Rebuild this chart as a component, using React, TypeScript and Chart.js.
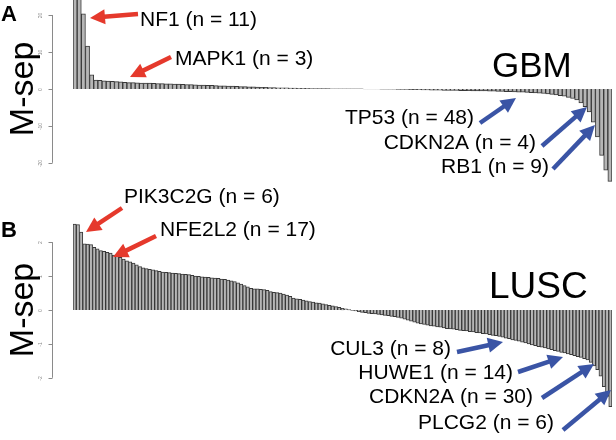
import React, { useEffect, useRef } from "react";
import { Chart, registerables } from "chart.js";

Chart.register(...registerables);

// ---------- data ----------
const gbmValues: number[] = [
  27, 25.5, 20.3, 11.6, 3.8,
  2.4, 2.3, 2.2, 2.1, 2.05, 1.95, 1.9, 1.8, 1.7,
  1.68, 1.65, 1.6, 1.58, 1.55, 1.5, 1.47, 1.43, 1.4, 1.36, 1.32, 1.28, 1.24, 1.2, 1.15, 1.1,
  1.06, 1.02, 0.98, 0.94, 0.9, 0.86, 0.82, 0.78, 0.74, 0.7, 0.66, 0.62, 0.58, 0.54, 0.5, 0.45,
  0.42, 0.38, 0.35, 0.32, 0.29, 0.26, 0.23, 0.2, 0.17, 0.14, 0.12, 0.1,
  0.09, 0.08, 0.07, 0.06, 0.05, 0.05, 0.04, 0.03, 0.02, 0.02, 0.01, 0.01, -0.01, -0.02, -0.03,
  -0.04, -0.05, -0.06, -0.08, -0.1, -0.12, -0.14, -0.16, -0.18, -0.2, -0.23, -0.26,
  -0.3, -0.32, -0.34, -0.36, -0.38, -0.4, -0.42, -0.44, -0.46, -0.48, -0.5, -0.52, -0.54, -0.56, -0.58, -0.6,
  -0.63, -0.66, -0.7, -0.74, -0.78, -0.82, -0.86, -0.9, -0.95, -1.0,
  -1.08, -1.16, -1.25, -1.35, -1.48, -1.62, -1.8, -2.0,
  -2.3, -2.6, -3.0, -3.8, -4.8,
  -6.2, -9, -13, -18, -22, -25,
];

const luscValues: number[] = [
  2.53, 2.52, 2.3,
  1.95, 1.94, 1.93, 1.85, 1.8,
  1.75, 1.73, 1.7, 1.68,
  1.62, 1.58, 1.55, 1.5, 1.45,
  1.42, 1.38, 1.33, 1.28, 1.24,
  1.22, 1.2, 1.18, 1.16, 1.14, 1.12,
  1.11, 1.1, 1.09, 1.08, 1.07, 1.06, 1.05, 1.04, 1.02, 1.0,
  0.99, 0.98, 0.97, 0.96, 0.95, 0.94, 0.93, 0.91, 0.9, 0.88,
  0.86, 0.84, 0.8, 0.76, 0.72, 0.68, 0.64,
  0.62, 0.62, 0.61, 0.6, 0.58, 0.54,
  0.52, 0.51, 0.5, 0.47, 0.44, 0.4, 0.35,
  0.33, 0.31, 0.29, 0.27, 0.25, 0.23, 0.21, 0.2,
  0.18, 0.16, 0.14, 0.12, 0.1, 0.08, 0.05, 0.03, 0.01,
  -0.01, -0.03, -0.05, -0.07, -0.08, -0.1,
  -0.11, -0.12, -0.13, -0.15, -0.16, -0.17, -0.19, -0.2, -0.22, -0.24,
  -0.27, -0.3, -0.33, -0.36, -0.39,
  -0.41, -0.43, -0.45, -0.47, -0.48, -0.5, -0.51, -0.53, -0.55, -0.56,
  -0.57, -0.58, -0.6, -0.61, -0.62, -0.64, -0.65, -0.67, -0.68, -0.7, -0.71, -0.73, -0.75, -0.76, -0.78,
  -0.8, -0.83, -0.85, -0.88, -0.9, -0.92, -0.95, -0.97, -1.0, -1.03,
  -1.05, -1.08, -1.1, -1.12, -1.15, -1.17, -1.2, -1.22, -1.25, -1.27,
  -1.3, -1.32, -1.35, -1.38, -1.4, -1.44, -1.47,
  -1.55, -1.65, -1.76, -1.95, -2.26, -2.55, -2.85,
];

const gbmTicks = [20, 10, 0, -10, -20];
const luscTicks = [2, 1, 0, -1, -2];

const gbmNotes = ["NF1 (n = 11)", "MAPK1 (n = 3)", "TP53 (n = 48)", "CDKN2A (n = 4)", "RB1 (n = 9)"];
const luscNotes = ["PIK3C2G (n = 6)", "NFE2L2 (n = 17)", "CUL3 (n = 8)", "HUWE1 (n = 14)", "CDKN2A (n = 30)", "PLCG2 (n = 6)"];

// ---------- layout / style ----------
const FONT = '"Liberation Sans", Arial, Helvetica, sans-serif';
const RED = "#e5392c";
const BLUE = "#3a54a5";

type NoteLayout = {
  x: number; y: number; align: CanvasTextAlign; color: string;
  ax1: number; ay1: number; ax2: number; ay2: number;
};

const gbmLayout: NoteLayout[] = [
  { x: 140, y: 20, align: "left", color: RED, ax1: 138, ay1: 14, ax2: 90, ay2: 18 },
  { x: 175, y: 59, align: "left", color: RED, ax1: 171, ay1: 57, ax2: 130, ay2: 77 },
  { x: 474, y: 118, align: "right", color: BLUE, ax1: 480, ay1: 123, ax2: 516, ay2: 98 },
  { x: 536, y: 143, align: "right", color: BLUE, ax1: 542, ay1: 146, ax2: 587, ay2: 107 },
  { x: 549, y: 167, align: "right", color: BLUE, ax1: 553, ay1: 169, ax2: 595, ay2: 125 },
];

const luscLayout: NoteLayout[] = [
  { x: 124, y: 197, align: "left", color: RED, ax1: 122, ay1: 208, ax2: 86, ay2: 232 },
  { x: 160, y: 230, align: "left", color: RED, ax1: 156, ay1: 236, ax2: 113, ay2: 257 },
  { x: 451, y: 349, align: "right", color: BLUE, ax1: 457, ay1: 352, ax2: 503, ay2: 342 },
  { x: 513, y: 373, align: "right", color: BLUE, ax1: 518, ay1: 372, ax2: 563, ay2: 357 },
  { x: 533, y: 397, align: "right", color: BLUE, ax1: 542, ay1: 398, ax2: 594, ay2: 364 },
  { x: 554, y: 423, align: "right", color: BLUE, ax1: 563, ay1: 430, ax2: 611, ay2: 390 },
];

type PanelCfg = {
  letter: string; letterY: number;
  title: string; titleX: number; titleY: number; titleSize: number;
  ticks: number[]; notes: string[]; layout: NoteLayout[];
};

function drawArrow(ctx: CanvasRenderingContext2D, x1: number, y1: number, x2: number, y2: number, color: string) {
  const ang = Math.atan2(y2 - y1, x2 - x1);
  const head = 15;
  const hw = 7.5;
  const bx = x2 - head * Math.cos(ang);
  const by = y2 - head * Math.sin(ang);
  ctx.save();
  ctx.strokeStyle = color;
  ctx.fillStyle = color;
  ctx.lineWidth = 4.5;
  ctx.lineCap = "butt";
  ctx.beginPath();
  ctx.moveTo(x1, y1);
  ctx.lineTo(bx + Math.cos(ang), by + Math.sin(ang));
  ctx.stroke();
  ctx.beginPath();
  ctx.moveTo(x2, y2);
  ctx.lineTo(bx + hw * Math.sin(ang), by - hw * Math.cos(ang));
  ctx.lineTo(bx - hw * Math.sin(ang), by + hw * Math.cos(ang));
  ctx.closePath();
  ctx.fill();
  ctx.restore();
}

function makePanelPlugin(cfg: PanelCfg) {
  return {
    id: "panelDecor" + cfg.letter,
    afterDraw(chart: any) {
      const ctx: CanvasRenderingContext2D = chart.ctx;
      const y = chart.scales.y;
      const area = chart.chartArea;
      const ax = Math.round(area.left - 21) + 0.5;
      ctx.save();
      // axis line (R style, spanning extreme ticks)
      ctx.strokeStyle = "#8a8a8a";
      ctx.lineWidth = 1;
      ctx.beginPath();
      ctx.moveTo(ax, y.getPixelForValue(cfg.ticks[0]));
      ctx.lineTo(ax, y.getPixelForValue(cfg.ticks[cfg.ticks.length - 1]));
      ctx.stroke();
      ctx.fillStyle = "#8a8a8a";
      ctx.font = `5px ${FONT}`;
      ctx.textAlign = "center";
      ctx.textBaseline = "middle";
      for (const t of cfg.ticks) {
        const py = Math.round(y.getPixelForValue(t)) + 0.5;
        ctx.beginPath();
        ctx.moveTo(ax, py);
        ctx.lineTo(ax - 4, py);
        ctx.stroke();
        ctx.save();
        ctx.translate(ax - 12, py);
        ctx.rotate(-Math.PI / 2);
        ctx.fillText(String(t), 0, 0);
        ctx.restore();
      }
      // y title
      const zeroY = y.getPixelForValue(0);
      ctx.fillStyle = "#000";
      ctx.save();
      ctx.translate(33, zeroY);
      ctx.rotate(-Math.PI / 2);
      ctx.font = `34px ${FONT}`;
      ctx.textAlign = "center";
      ctx.textBaseline = "alphabetic";
      ctx.fillText("M-sep", 0, 0);
      ctx.restore();
      // panel letter
      ctx.font = `bold 22px ${FONT}`;
      ctx.textAlign = "left";
      ctx.textBaseline = "alphabetic";
      ctx.fillText(cfg.letter, 1, cfg.letterY);
      // panel title
      ctx.font = `${cfg.titleSize}px ${FONT}`;
      ctx.fillText(cfg.title, cfg.titleX, cfg.titleY);
      // annotations
      ctx.font = `21px ${FONT}`;
      ctx.textBaseline = "middle";
      cfg.notes.forEach((txt, i) => {
        const l = cfg.layout[i];
        ctx.fillStyle = "#000";
        ctx.textAlign = l.align;
        ctx.fillText(txt, l.x, l.y);
        drawArrow(ctx, l.ax1, l.ay1, l.ax2, l.ay2, l.color);
      });
      ctx.restore();
    },
  };
}

function makeChart(canvas: HTMLCanvasElement, values: number[], prefix: string, min: number, max: number,
  padTop: number, padBottom: number, cfg: PanelCfg) {
  return new Chart(canvas, {
    type: "bar",
    data: {
      labels: values.map((_, i) => `${prefix}${i + 1}`),
      datasets: [
        {
          data: values,
          backgroundColor: "#b6b6b6",
          borderColor: "#383838",
          borderWidth: 1,
          categoryPercentage: 1,
          barPercentage: 1,
        },
      ],
    },
    options: {
      responsive: false,
      animation: false,
      events: [],
      layout: { padding: { left: 73, right: 4, top: padTop, bottom: padBottom } },
      scales: {
        x: { display: false },
        y: { display: false, min, max },
      },
      plugins: { legend: { display: false }, tooltip: { enabled: false } },
    },
    plugins: [makePanelPlugin(cfg)],
  } as any);
}

export default function App() {
  const refA = useRef<HTMLCanvasElement>(null);
  const refB = useRef<HTMLCanvasElement>(null);

  useEffect(() => {
    document.body.style.margin = "0";
    const a = makeChart(refA.current!, gbmValues, "G", -26, 24.05, 0, 255, {
      letter: "A", letterY: 21, title: "GBM", titleX: 492, titleY: 77, titleSize: 35,
      ticks: gbmTicks, notes: gbmNotes, layout: gbmLayout,
    });
    const b = makeChart(refB.current!, luscValues, "L", -2.95, 2.8, 215, 30, {
      letter: "B", letterY: 237, title: "LUSC", titleX: 489, titleY: 298, titleSize: 37,
      ticks: luscTicks, notes: luscNotes, layout: luscLayout,
    });
    return () => {
      a.destroy();
      b.destroy();
    };
  }, []);

  const cs: React.CSSProperties = { position: "absolute", left: 0, top: 0, display: "block" };
  return (
    <div style={{ position: "relative", width: 616, height: 440, background: "#fff" }}>
      <canvas ref={refA} width={616} height={440} style={cs} />
      <canvas ref={refB} width={616} height={440} style={cs} />
    </div>
  );
}
